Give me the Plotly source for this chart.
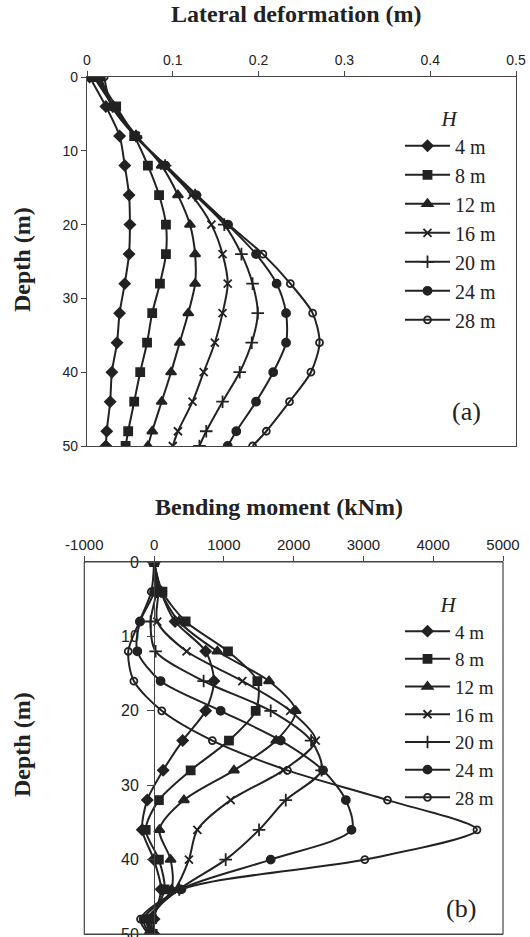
import plotly.graph_objects as go

# ---------------- data ----------------
depth = [0, 4, 8, 12, 16, 20, 24, 28, 32, 36, 40, 44, 48, 50]
series_names = ["4 m", "8 m", "12 m", "16 m", "20 m", "24 m", "28 m"]

# (a) lateral deformation (m)
defl_4 = [0.003, 0.022, 0.038, 0.044, 0.049, 0.050, 0.049, 0.044, 0.038, 0.035, 0.029, 0.027, 0.023, 0.022]
defl_8 = [0.012, 0.034, 0.055, 0.071, 0.084, 0.092, 0.092, 0.085, 0.076, 0.070, 0.062, 0.055, 0.048, 0.045]
defl_12 = [0.008, 0.031, 0.058, 0.087, 0.106, 0.120, 0.126, 0.126, 0.118, 0.108, 0.098, 0.087, 0.076, 0.071]
defl_16 = [0.010, 0.031, 0.057, 0.090, 0.122, 0.145, 0.158, 0.164, 0.158, 0.149, 0.136, 0.123, 0.106, 0.100]
defl_20 = [0.013, 0.030, 0.057, 0.091, 0.126, 0.160, 0.180, 0.193, 0.199, 0.192, 0.178, 0.158, 0.139, 0.131]
defl_24 = [0.016, 0.030, 0.056, 0.091, 0.127, 0.164, 0.197, 0.221, 0.232, 0.232, 0.217, 0.197, 0.174, 0.164]
defl_28 = [0.020, 0.029, 0.056, 0.092, 0.128, 0.165, 0.205, 0.237, 0.263, 0.271, 0.261, 0.236, 0.209, 0.193]

# (b) bending moment (kNm)
mom_4 = [0, 100, 300, 739, 858, 739, 410, 130, -98, -170, -3, 100, 0, 0]
mom_8 = [0, 120, 452, 1059, 1480, 1456, 1073, 524, 69, -120, 69, 150, -30, -20]
mom_12 = [0, 100, 356, 906, 1647, 2030, 1750, 1145, 428, 75, 237, 250, -60, -30]
mom_16 = [0, 60, 46, 466, 1265, 1950, 2317, 1850, 1098, 620, 499, 300, -80, -40]
mom_20 = [0, 30, -50, 22, 710, 1671, 2250, 2400, 1887, 1504, 1026, 360, -100, -50]
mom_24 = [0, 0, -200, -240, 93, 954, 1815, 2420, 2748, 2829, 1671, 380, -150, -60]
mom_28 = [0, -40, -210, -370, -290, 110, 835, 1911, 3345, 4627, 3020, 400, -194, -80]

defl_ticks = [0, 0.1, 0.2, 0.3, 0.4, 0.5]
mom_tick_vals = [-1000, 0, 1000, 2000, 3000, 4000, 5000]
mom_tick_text = ["-1000", "0", "1000", "2000", "3000", "4000", "5000"]
depth_ticks = [0, 10, 20, 30, 40, 50]

# ---------------- style ----------------
ink = "#222222"
symbols = ["diamond", "square", "triangle-up", "x-thin-open", "cross-thin-open", "circle", "circle-open"]
msizes = [8, 8, 9, 8, 9, 8, 7]
serif = "Liberation Serif"
sans = "Liberation Sans"

W, H = 530, 937
def px_x(p):
    return p / W
def px_y(p):
    return 1 - p / H

top_x = [px_x(87), px_x(516)]
top_y = [px_y(446), px_y(77)]
bot_x = [px_x(84.3), px_x(503)]
bot_y = [px_y(934), px_y(562)]

fig = go.Figure()

defl_sets = [defl_4, defl_8, defl_12, defl_16, defl_20, defl_24, defl_28]
mom_sets = [mom_4, mom_8, mom_12, mom_16, mom_20, mom_24, mom_28]

for i, name in enumerate(series_names):
    fig.add_trace(go.Scatter(
        x=defl_sets[i], y=depth, name=name, mode="lines+markers",
        line=dict(color=ink, width=2, shape="spline", smoothing=0.8),
        marker=dict(symbol=symbols[i], size=msizes[i], color=ink,
                    line=dict(color=ink, width=1.8)),
        xaxis="x", yaxis="y", legend="legend"))

for i, name in enumerate(series_names):
    fig.add_trace(go.Scatter(
        x=mom_sets[i], y=depth, name=name, mode="lines+markers",
        line=dict(color=ink, width=2, shape="spline", smoothing=0.8),
        marker=dict(symbol=symbols[i], size=msizes[i], color=ink,
                    line=dict(color=ink, width=1.8)),
        xaxis="x2", yaxis="y2", legend="legend2"))

axis_common = dict(showgrid=False, zeroline=False, showline=True, linecolor="#444444",
                   linewidth=1.2, ticks="outside", tickcolor="#444444",
                   automargin=False, ticklabeloverflow="allow")

zero_pos = bot_x[0] + (0 - mom_tick_vals[0]) / (mom_tick_vals[-1] - mom_tick_vals[0]) * (bot_x[1] - bot_x[0])

fig.update_layout(
    template="none",
    width=W, height=H, margin=dict(l=0, r=0, t=0, b=0, pad=0, autoexpand=False),
    paper_bgcolor="white", plot_bgcolor="white",
    xaxis=dict(domain=top_x, anchor="y", side="top", range=[0, 0.5], ticklen=5,
               tickvals=defl_ticks, mirror=True, tickfont=dict(family=sans, size=14, color=ink),
               **axis_common),
    yaxis=dict(domain=top_y, anchor="x", range=[50, 0], tickvals=depth_ticks, ticklen=5,
               mirror=True, tickfont=dict(family=sans, size=14, color=ink), **axis_common),
    xaxis2=dict(domain=bot_x, anchor="y2", side="top", range=[-1000, 5000], ticklen=5,
                tickvals=mom_tick_vals, ticktext=mom_tick_text, mirror=True,
                tickfont=dict(family=sans, size=15, color=ink), **axis_common),
    yaxis2=dict(domain=bot_y, anchor="free", position=zero_pos, range=[50, 0], ticklen=7,
                ticklabelstandoff=5, tickvals=depth_ticks,
                tickfont=dict(family=sans, size=16, color=ink), **axis_common),
    legend=dict(x=px_x(400), y=px_y(99), xanchor="left", yanchor="top",
                bgcolor="rgba(0,0,0,0)", font=dict(family=serif, size=20, color=ink),
                title=dict(text="<i>H</i>", side="top center", font=dict(family=serif, size=21, color=ink)),
                itemwidth=45, tracegroupgap=0),
    legend2=dict(x=px_x(400), y=px_y(585), xanchor="left", yanchor="top",
                 bgcolor="rgba(0,0,0,0)", font=dict(family=serif, size=19, color=ink),
                 title=dict(text="<i>H</i>", side="top center", font=dict(family=serif, size=21, color=ink)),
                 itemwidth=45, tracegroupgap=0),
    showlegend=True,
)

# frame of the lower panel (left / right / bottom edges)
fig.add_shape(type="rect", xref="x2 domain", yref="y2 domain", x0=0, x1=1, y0=0, y1=1,
              line=dict(color="#444444", width=1.2), fillcolor="rgba(0,0,0,0)", layer="above")

title_font = dict(family=serif, size=24, color=ink)
common_ann = dict(xref="paper", yref="paper", showarrow=False, xanchor="center", yanchor="middle")
fig.add_annotation(text="<b>Lateral deformation (m)</b>", x=px_x(296), y=px_y(14),
                   font=title_font, **common_ann)
fig.add_annotation(text="<b>Bending moment (kNm)</b>", x=px_x(279), y=px_y(507),
                   font=title_font, **common_ann)
fig.add_annotation(text="<b>Depth (m)</b>", x=px_x(22), y=px_y(260), textangle=-90,
                   font=title_font, **common_ann)
fig.add_annotation(text="<b>Depth (m)</b>", x=px_x(22), y=px_y(745), textangle=-90,
                   font=title_font, **common_ann)
fig.add_annotation(text="(a)", x=px_x(466), y=px_y(412), font=dict(family=serif, size=26, color=ink),
                   **common_ann)
fig.add_annotation(text="(b)", x=px_x(461), y=px_y(908), font=dict(family=serif, size=26, color=ink),
                   **common_ann)

fig.write_html("out.html", config={"displayModeBar": False},
               post_script="document.body.style.margin='0';document.body.style.overflow='hidden';")
